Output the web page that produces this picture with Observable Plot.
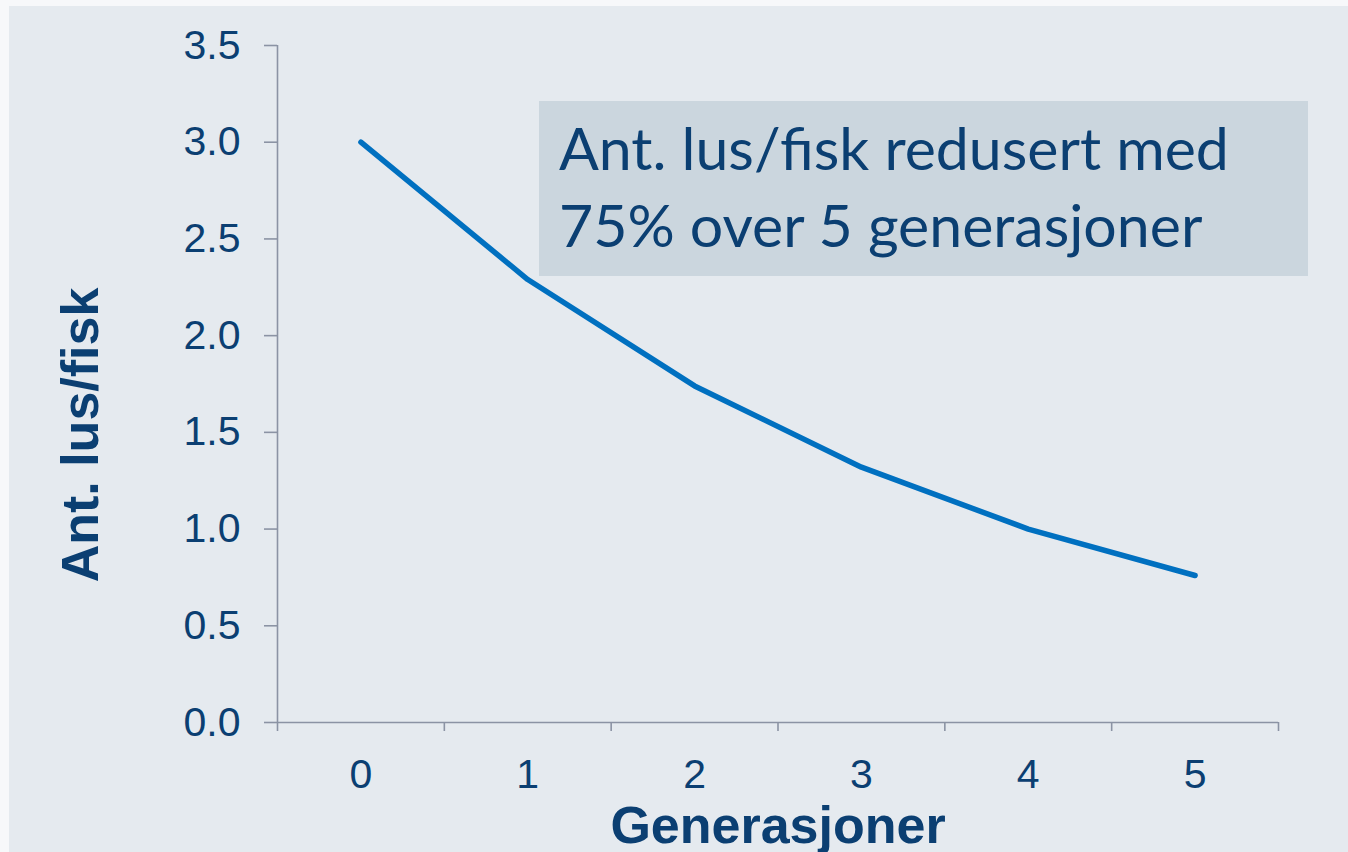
<!DOCTYPE html>
<html>
<head>
<meta charset="utf-8">
<script src="https://cdn.jsdelivr.net/npm/d3@7"></script>
<script src="https://cdn.jsdelivr.net/npm/@observablehq/plot@0.6"></script>
<style>
  html, body { margin: 0; padding: 0; background: #f7f8fa; }
  #wrap { position: relative; width: 1348px; height: 852px; overflow: hidden; }
  #panel { position: absolute; left: 9px; top: 6px; right: 0; bottom: 0; background: #e5eaef; }
  #chart { position: absolute; left: 0; top: 0; }
  #note { position: absolute; left: 539px; top: 101px; width: 769px; height: 175px;
          background: #cbd6de; box-sizing: border-box; padding: 8px 0 0 20px;
          font-family: Lato, "Open Sans", sans-serif; font-size: 59px; line-height: 77px;
          color: #0b3f72; white-space: nowrap; }
</style>
</head>
<body>
<div id="wrap">
  <div id="panel"></div>
  <div id="chart"></div>
  <div id="note"></div>
</div>
<script>
// Data
const generations = [0, 1, 2, 3, 4, 5];
const licePerFish = [3.0, 2.29, 1.74, 1.32, 1.0, 0.76];
const yTicks = [0, 0.5, 1.0, 1.5, 2.0, 2.5, 3.0, 3.5];
const xTitle = "Generasjoner";
const yTitle = "Ant. lus/fisk";
const noteLines = ["Ant. lus/fisk redusert med", "75% over 5 generasjoner"];

const data = generations.map((g, i) => ({g, v: licePerFish[i]}));
const boundaries = generations.map(g => g - 0.5).concat([generations[generations.length - 1] + 0.5]);

const axisGray = "#8b93a4";
const textBlue = "#0b3f72";
const lineBlue = "#0070c0";
const font = "Liberation Sans, Arial, sans-serif";

const chart = Plot.plot({
  width: 1348,
  height: 852,
  marginLeft: 277,
  marginRight: 70,
  marginTop: 45,
  marginBottom: 130,
  style: {background: "transparent", fontFamily: font, overflow: "visible"},
  x: {domain: [boundaries[0], boundaries[boundaries.length - 1]], label: null},
  y: {domain: [0, 3.5], label: null},
  marks: [
    // axis lines
    Plot.ruleX([boundaries[0]], {y1: 0, y2: 3.5, stroke: axisGray, strokeWidth: 1.6}),
    Plot.ruleY([0], {stroke: axisGray, strokeWidth: 1.6}),
    // y ticks
    Plot.axisY(yTicks, {tickSize: 13, tickFormat: () => "", color: axisGray, strokeWidth: 1.6, label: null}),
    Plot.axisY(yTicks, {tickSize: 0, tickPadding: 37, tickFormat: d3.format(".1f"), color: textBlue, fontSize: 41, label: null}),
    // x ticks at category boundaries
    Plot.axisX(boundaries, {tickSize: 9, tickFormat: () => "", color: axisGray, strokeWidth: 1.6, label: null}),
    Plot.axisX(generations, {tickSize: 0, tickPadding: 36, tickFormat: d => String(d), color: textBlue, fontSize: 41, label: null}),
    // data line
    Plot.line(data, {x: "g", y: "v", stroke: lineBlue, strokeWidth: 5.5, strokeLinecap: "round", strokeLinejoin: "round"}),
    // axis titles
    Plot.text([xTitle], {text: d => d, frameAnchor: "bottom", lineAnchor: "bottom", dy: 120,
      fontSize: 52, fontWeight: "bold", fill: textBlue}),
    Plot.text([yTitle], {text: d => d, frameAnchor: "left", textAnchor: "middle", lineAnchor: "bottom", rotate: -90, dx: -180, dy: 51,
      fontSize: 52, fontWeight: "bold", fill: textBlue})
  ]
});
document.getElementById("chart").appendChild(chart);
document.getElementById("note").innerHTML = noteLines.map(s => `<div>${s}</div>`).join("");
</script>
</body>
</html>
